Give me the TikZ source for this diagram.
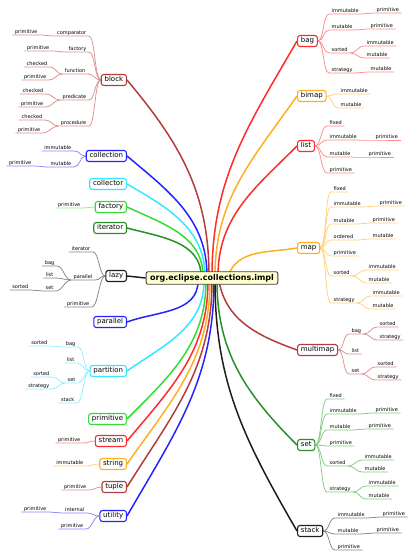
\documentclass[tikz,border=0pt]{standalone}
\usepackage{fontspec}
\setmainfont{DejaVu Sans}
\usetikzlibrary{backgrounds}
\definecolor{cR}{HTML}{FF2A2A}\definecolor{cRl}{HTML}{FF8A8A}
\definecolor{cD}{HTML}{B33C3C}\definecolor{cDl}{HTML}{D99090}
\definecolor{cO}{HTML}{FFB020}\definecolor{cOl}{HTML}{FFD27A}
\definecolor{cB}{HTML}{2424FF}\definecolor{cBl}{HTML}{8585FF}
\definecolor{cC}{HTML}{33E8FF}\definecolor{cCl}{HTML}{8EF0FF}
\definecolor{cG}{HTML}{33DD33}\definecolor{cGl}{HTML}{8EEA8E}
\definecolor{cE}{HTML}{2A8F2A}\definecolor{cEl}{HTML}{85C885}
\definecolor{cK}{HTML}{1E1E1E}\definecolor{cKl}{HTML}{858585}
\definecolor{cY}{HTML}{FFFFCC}
\tikzset{
 mm/.style={draw=#1, rounded corners=2.5pt, line width=1.1pt, fill=white, font=\fontsize{7}{8}\selectfont, inner xsep=3.3pt, inner ysep=0pt, text height=5.2pt, text depth=1.5pt, minimum height=11pt},
 mmL/.style={mm=#1, anchor=east},
 mmR/.style={mm=#1, anchor=west},
 sub/.style={font=\fontsize{5}{6}\selectfont, inner xsep=2.5pt, inner ysep=1pt, text height=3.7pt, text depth=0.5pt},
 sl/.style={sub, anchor=south east},
 sr/.style={sub, anchor=south west},
 trunk/.style={draw=#1, line width=1.5pt},
 twig/.style={draw=#1, line width=0.75pt},
}
\newcommand\twL[3]{\draw[twig=#1] (#2) .. controls +(-6,0) and +(6,0) .. (#3.south east) -- (#3.south west);}
\newcommand\twR[3]{\draw[twig=#1] (#2) .. controls +(6,0) and +(-6,0) .. (#3.south west) -- (#3.south east);}
\begin{document}
\begin{tikzpicture}[x=1pt,y=1pt]
\useasboundingbox (0,0) rectangle (415,-556);
% center
\node[draw=cK!85, fill=cY, line width=0.9pt, rounded corners=2pt, font=\bfseries\fontsize{8}{9}\selectfont, inner xsep=4pt, inner ysep=0pt, text height=5.9pt, text depth=1.7pt, minimum height=12.5pt] (c) at (212,-278) {org.eclipse.collections.impl};
% main nodes left
\node[mmL=cD] (block) at (127,-80) {block};
\node[mmL=cB] (collection) at (127,-156) {collection};
\node[mmL=cC] (collector) at (127,-184) {collector};
\node[mmL=cG] (factory) at (127,-207) {factory};
\node[mmL=cE] (iterator) at (127,-228) {iterator};
\node[mmL=cK] (lazy) at (127,-276) {lazy};
\node[mmL=cB] (parallel) at (127,-322) {parallel};
\node[mmL=cC] (partition) at (127,-371) {partition};
\node[mmL=cG] (primitive) at (127,-419) {primitive};
\node[mmL=cR] (stream) at (127,-441) {stream};
\node[mmL=cO] (string) at (127,-464) {string};
\node[mmL=cD] (tuple) at (127,-487) {tuple};
\node[mmL=cB] (utility) at (127,-516) {utility};
% main nodes right
\node[mmR=cR] (bag) at (297,-41) {bag};
\node[mmR=cO] (bimap) at (297,-96) {bimap};
\node[mmR=cR] (list) at (297,-146) {list};
\node[mmR=cO] (map) at (297,-248) {map};
\node[mmR=cD] (multimap) at (297,-350) {multimap};
\node[mmR=cE] (set) at (297,-445) {set};
\node[mmR=cK] (stack) at (297,-531) {stack};
% start points
\coordinate (sIt) at (201,-276);\coordinate (sFa) at (203,-276);\coordinate (sCo) at (205,-276);
\coordinate (sCn) at (207,-276);\coordinate (sBl) at (209,-276);\coordinate (sBa) at (212,-276);
\coordinate (sBi) at (215,-276);\coordinate (sLi) at (218,-276);\coordinate (sMa) at (228,-276);
\coordinate (sPl) at (198,-281);\coordinate (sPt) at (204,-281);\coordinate (sPr) at (206,-281);
\coordinate (sSt) at (208,-281);\coordinate (sSg) at (210,-281);\coordinate (sTu) at (212,-281);
\coordinate (sUt) at (214,-281);\coordinate (sSk) at (215,-281);\coordinate (sSe) at (217,-281);
\coordinate (sMm) at (219,-281);
% block children
\node[sl] (b1) at (89,-36) {comparator};
\node[sl] (b1a) at (40,-35) {primitive};
\node[sl] (b2) at (89,-52) {factory};
\node[sl] (b2a) at (52,-51) {primitive};
\node[sl] (b3) at (88,-74) {function};
\node[sl] (b3a) at (50,-67) {checked};
\node[sl] (b3b) at (49,-80) {primitive};
\node[sl] (b4) at (89,-100) {predicate};
\node[sl] (b4a) at (46,-94) {checked};
\node[sl] (b4b) at (46,-107) {primitive};
\node[sl] (b5) at (89,-126) {procedure};
\node[sl] (b5a) at (45,-120) {checked};
\node[sl] (b5b) at (43,-133) {primitive};
% collection
\node[sl] (c1) at (74,-151) {immutable};
\node[sl] (c2) at (74,-167) {mutable};
\node[sl] (c2a) at (34,-166) {primitive};
% factory
\node[sl] (f1) at (83,-208) {primitive};
% lazy
\node[sl] (z1) at (93,-252) {iterator};
\node[sl] (z2) at (95,-280) {parallel};
\node[sl] (z2a) at (57,-266) {bag};
\node[sl] (z2b) at (56,-278) {list};
\node[sl] (z2c) at (56,-291) {set};
\node[sl] (z2c1) at (31,-290) {sorted};
\node[sl] (z3) at (92,-307) {primitive};
% partition
\node[sl] (p1) at (78,-347) {bag};
\node[sl] (p1a) at (50,-346) {sorted};
\node[sl] (p2) at (77,-363) {list};
\node[sl] (p3) at (78,-383) {set};
\node[sl] (p3a) at (52,-377) {sorted};
\node[sl] (p3b) at (52,-389) {strategy};
\node[sl] (p4) at (77,-403) {stack};
% stream, string, tuple, utility
\node[sl] (s1) at (83,-443) {primitive};
\node[sl] (g1) at (86,-466) {immutable};
\node[sl] (t1) at (89,-490) {primitive};
\node[sl] (u1) at (87,-513) {internal};
\node[sl] (u1a) at (49,-512) {primitive};
\node[sl] (u2) at (86,-529) {primitive};
% bag
\node[sr] (a1) at (329,-14) {immutable};
\node[sr] (a1a) at (374,-13) {primitive};
\node[sr] (a2) at (329,-30) {mutable};
\node[sr] (a2a) at (368,-29) {primitive};
\node[sr] (a3) at (329,-53) {sorted};
\node[sr] (a3a) at (364,-46) {immutable};
\node[sr] (a3b) at (364,-58) {mutable};
\node[sr] (a4) at (329,-73) {strategy};
\node[sr] (a4a) at (368,-72) {mutable};
% bimap
\node[sr] (m1) at (338,-94) {immutable};
\node[sr] (m2) at (338,-108) {mutable};
% list
\node[sr] (l1) at (327,-126) {fixed};
\node[sr] (l2) at (327,-140) {immutable};
\node[sr] (l2a) at (373,-140) {primitive};
\node[sr] (l3) at (327,-157) {mutable};
\node[sr] (l3a) at (366,-157) {primitive};
\node[sr] (l4) at (327,-173) {primitive};
% map
\node[sr] (q1) at (331,-192) {fixed};
\node[sr] (q2) at (331,-207) {immutable};
\node[sr] (q2a) at (377,-206) {primitive};
\node[sr] (q3) at (331,-224) {mutable};
\node[sr] (q3a) at (370,-223) {primitive};
\node[sr] (q4) at (331,-240) {ordered};
\node[sr] (q4a) at (370,-239) {mutable};
\node[sr] (q5) at (331,-256) {primitive};
\node[sr] (q6) at (331,-276) {sorted};
\node[sr] (q6a) at (366,-270) {immutable};
\node[sr] (q6b) at (366,-283) {mutable};
\node[sr] (q7) at (331,-303) {strategy};
\node[sr] (q7a) at (370,-296) {immutable};
\node[sr] (q7b) at (370,-309) {mutable};
% multimap
\node[sr] (w1) at (349,-334) {bag};
\node[sr] (w1a) at (377,-327) {sorted};
\node[sr] (w1b) at (377,-340) {strategy};
\node[sr] (w2) at (349,-354) {list};
\node[sr] (w3) at (349,-374) {set};
\node[sr] (w3a) at (375,-367) {sorted};
\node[sr] (w3b) at (375,-380) {strategy};
% set
\node[sr] (e1) at (327,-399) {fixed};
\node[sr] (e2) at (327,-414) {immutable};
\node[sr] (e2a) at (373,-413) {primitive};
\node[sr] (e3) at (327,-430) {mutable};
\node[sr] (e3a) at (366,-429) {primitive};
\node[sr] (e4) at (327,-446) {primitive};
\node[sr] (e5) at (327,-466) {sorted};
\node[sr] (e5a) at (362,-460) {immutable};
\node[sr] (e5b) at (362,-472) {mutable};
\node[sr] (e6) at (327,-492) {strategy};
\node[sr] (e6a) at (366,-486) {immutable};
\node[sr] (e6b) at (366,-499) {mutable};
% stack
\node[sr] (k1) at (335,-518) {immutable};
\node[sr] (k1a) at (380,-517) {primitive};
\node[sr] (k2) at (335,-534) {mutable};
\node[sr] (k2a) at (374,-533) {primitive};
\node[sr] (k3) at (335,-550) {primitive};
\begin{pgfonlayer}{background}
% trunks
\draw[trunk=cD] (sBl) to[out=90,in=-50] (block.east);
\draw[trunk=cB] (sCn) to[out=90,in=-40] (collection.east);
\draw[trunk=cC] (sCo) to[out=90,in=-30] (collector.east);
\draw[trunk=cG] (sFa) to[out=90,in=-25] (factory.east);
\draw[trunk=cE] (sIt) to[out=90,in=-15] (iterator.east);
\draw[trunk=cK] (c.west) -- (lazy.east);
\draw[trunk=cB] (sPl) to[out=-90,in=20] (parallel.east);
\draw[trunk=cC] (sPt) to[out=-90,in=35] (partition.east);
\draw[trunk=cG] (sPr) to[out=-90,in=45] (primitive.east);
\draw[trunk=cR] (sSt) to[out=-90,in=50] (stream.east);
\draw[trunk=cO] (sSg) to[out=-90,in=55] (string.east);
\draw[trunk=cD] (sTu) to[out=-90,in=58] (tuple.east);
\draw[trunk=cB] (sUt) to[out=-90,in=60] (utility.east);
\draw[trunk=cR] (sBa) to[out=90,in=-120] (bag.west);
\draw[trunk=cO] (sBi) to[out=90,in=-125] (bimap.west);
\draw[trunk=cR] (sLi) to[out=90,in=-135] (list.west);
\draw[trunk=cO] (sMa) to[out=70,in=-170] (map.west);
\draw[trunk=cD] (sMm) to[out=-80,in=160] (multimap.west);
\draw[trunk=cE] (sSe) to[out=-90,in=135] (set.west);
\draw[trunk=cK] (sSk) to[out=-90,in=120] (stack.west);
% block
\twL{cDl}{block.west}{b1}\twL{cDl}{b1.south west}{b1a}
\twL{cDl}{block.west}{b2}\twL{cDl}{b2.south west}{b2a}
\twL{cDl}{block.west}{b3}\twL{cDl}{b3.south west}{b3a}\twL{cDl}{b3.south west}{b3b}
\twL{cDl}{block.west}{b4}\twL{cDl}{b4.south west}{b4a}\twL{cDl}{b4.south west}{b4b}
\twL{cDl}{block.west}{b5}\twL{cDl}{b5.south west}{b5a}\twL{cDl}{b5.south west}{b5b}
% collection
\twL{cBl}{collection.west}{c1}\twL{cBl}{collection.west}{c2}\twL{cBl}{c2.south west}{c2a}
% factory
\twL{cGl}{factory.west}{f1}
% lazy
\twL{cKl}{lazy.west}{z1}\twL{cKl}{lazy.west}{z2}\twL{cKl}{lazy.west}{z3}
\twL{cKl}{z2.south west}{z2a}\twL{cKl}{z2.south west}{z2b}\twL{cKl}{z2.south west}{z2c}
\twL{cKl}{z2c.south west}{z2c1}
% partition
\twL{cCl}{partition.west}{p1}\twL{cCl}{p1.south west}{p1a}
\twL{cCl}{partition.west}{p2}
\twL{cCl}{partition.west}{p3}\twL{cCl}{p3.south west}{p3a}\twL{cCl}{p3.south west}{p3b}
\twL{cCl}{partition.west}{p4}
% stream string tuple utility
\twL{cRl}{stream.west}{s1}
\twL{cOl}{string.west}{g1}
\twL{cDl}{tuple.west}{t1}
\twL{cBl}{utility.west}{u1}\twL{cBl}{u1.south west}{u1a}\twL{cBl}{utility.west}{u2}
% bag
\twR{cRl}{bag.east}{a1}\twR{cRl}{a1.south east}{a1a}
\twR{cRl}{bag.east}{a2}\twR{cRl}{a2.south east}{a2a}
\twR{cRl}{bag.east}{a3}\twR{cRl}{a3.south east}{a3a}\twR{cRl}{a3.south east}{a3b}
\twR{cRl}{bag.east}{a4}\twR{cRl}{a4.south east}{a4a}
% bimap
\twR{cOl}{bimap.east}{m1}\twR{cOl}{bimap.east}{m2}
% list
\twR{cRl}{list.east}{l1}
\twR{cRl}{list.east}{l2}\twR{cRl}{l2.south east}{l2a}
\twR{cRl}{list.east}{l3}\twR{cRl}{l3.south east}{l3a}
\twR{cRl}{list.east}{l4}
% map
\twR{cOl}{map.east}{q1}
\twR{cOl}{map.east}{q2}\twR{cOl}{q2.south east}{q2a}
\twR{cOl}{map.east}{q3}\twR{cOl}{q3.south east}{q3a}
\twR{cOl}{map.east}{q4}\twR{cOl}{q4.south east}{q4a}
\twR{cOl}{map.east}{q5}
\twR{cOl}{map.east}{q6}\twR{cOl}{q6.south east}{q6a}\twR{cOl}{q6.south east}{q6b}
\twR{cOl}{map.east}{q7}\twR{cOl}{q7.south east}{q7a}\twR{cOl}{q7.south east}{q7b}
% multimap
\twR{cDl}{multimap.east}{w1}\twR{cDl}{w1.south east}{w1a}\twR{cDl}{w1.south east}{w1b}
\twR{cDl}{multimap.east}{w2}
\twR{cDl}{multimap.east}{w3}\twR{cDl}{w3.south east}{w3a}\twR{cDl}{w3.south east}{w3b}
% set
\twR{cEl}{set.east}{e1}
\twR{cEl}{set.east}{e2}\twR{cEl}{e2.south east}{e2a}
\twR{cEl}{set.east}{e3}\twR{cEl}{e3.south east}{e3a}
\twR{cEl}{set.east}{e4}
\twR{cEl}{set.east}{e5}\twR{cEl}{e5.south east}{e5a}\twR{cEl}{e5.south east}{e5b}
\twR{cEl}{set.east}{e6}\twR{cEl}{e6.south east}{e6a}\twR{cEl}{e6.south east}{e6b}
% stack
\twR{cKl}{stack.east}{k1}\twR{cKl}{k1.south east}{k1a}
\twR{cKl}{stack.east}{k2}\twR{cKl}{k2.south east}{k2a}
\twR{cKl}{stack.east}{k3}
\end{pgfonlayer}
\end{tikzpicture}
\end{document}
